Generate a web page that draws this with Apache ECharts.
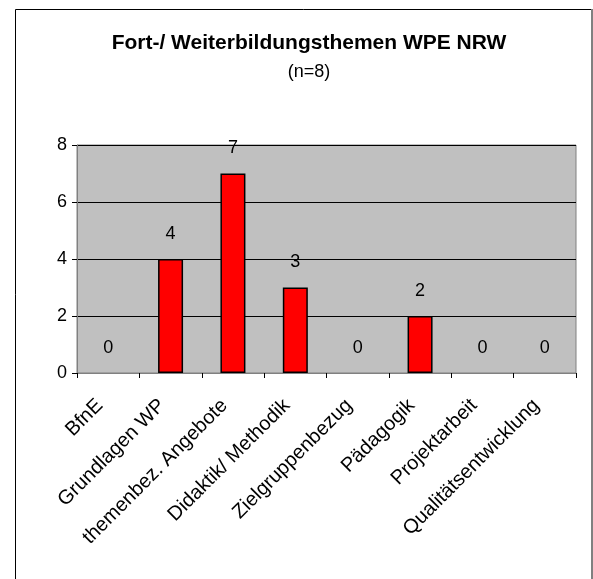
<!DOCTYPE html>
<html>
<head>
<meta charset="utf-8">
<script src="https://cdn.jsdelivr.net/npm/echarts@6/dist/echarts.min.js"></script>
<style>
  html, body { margin: 0; padding: 0; background: #fff; }
  #main { width: 593px; height: 579px; }
</style>
</head>
<body>
<div id="main"></div>
<script>
// Daten
const categories = ['BfnE', 'Grundlagen WP', 'themenbez. Angebote', 'Didaktik/ Methodik',
  'Zielgruppenbezug', 'Pädagogik', 'Projektarbeit', 'Qualitätsentwicklung'];
const counts = [0, 4, 7, 3, 0, 2, 0, 0];
const yTicks = [0, 2, 4, 6, 8];

const myChart = echarts.init(document.getElementById('main'));
const font = 'Liberation Sans, Arial, sans-serif';

// Balken mit Wert 0 ohne Rahmen zeichnen
const barData = counts.map(function (v) {
  return v === 0 ? { value: v, itemStyle: { borderWidth: 0, opacity: 0 } } : v;
});

const option = {
  backgroundColor: '#fff',
  animation: false,
  textStyle: { fontFamily: font },
  title: {
    text: 'Fort-/ Weiterbildungsthemen WPE NRW',
    subtext: '(n=8)',
    left: 304,
    textAlign: 'center',
    top: 28,
    itemGap: 9,
    textStyle: { fontFamily: font, fontSize: 21, fontWeight: 'bold', color: '#000' },
    subtextStyle: { fontFamily: font, fontSize: 18, color: '#000' }
  },
  // äußerer Rahmen
  graphic: [
    {
      type: 'polyline',
      shape: { points: [[15.5, 600], [15.5, 9.5], [592, 9.5]] },
      style: { fill: 'none', stroke: '#000', lineWidth: 1 },
      silent: true
    },
    {
      type: 'line',
      shape: { x1: 592, y1: 9, x2: 592, y2: 600 },
      style: { stroke: '#808080', lineWidth: 2 },
      silent: true
    }
  ],
  grid: {
    left: 77, top: 145, width: 499, height: 228,
    show: true,
    backgroundColor: '#c0c0c0',
    borderColor: '#808080',
    borderWidth: 1
  },
  xAxis: {
    type: 'category',
    data: categories,
    axisLine: { lineStyle: { color: '#808080' } },
    axisTick: { show: true, alignWithLabel: false, length: 5, lineStyle: { color: '#000' } },
    axisLabel: {
      interval: 0,
      rotate: 45,
      margin: 21,
      padding: [0, 12, 0, 0],
      color: '#000',
      fontSize: 20,
      fontFamily: font
    }
  },
  yAxis: {
    type: 'value',
    min: yTicks[0],
    max: yTicks[yTicks.length - 1],
    interval: 2,
    axisLine: { show: true, lineStyle: { color: '#808080' } },
    axisTick: { show: true, length: 5, lineStyle: { color: '#000' } },
    axisLabel: { color: '#000', fontSize: 18, margin: 10, fontFamily: font },
    splitLine: { show: true, lineStyle: { color: '#000', width: 1 } }
  },
  series: [{
    type: 'bar',
    data: barData,
    barWidth: 25,
    itemStyle: { color: '#ff0000', borderColor: '#000', borderWidth: 1.5 },
    label: {
      show: true,
      position: 'top',
      distance: 16,
      color: '#000',
      opacity: 1,
      fontSize: 18,
      fontFamily: font
    }
  }]
};

myChart.setOption(option);
window.addEventListener('resize', function () {
  myChart.resize();
});
</script>
</body>
</html>
